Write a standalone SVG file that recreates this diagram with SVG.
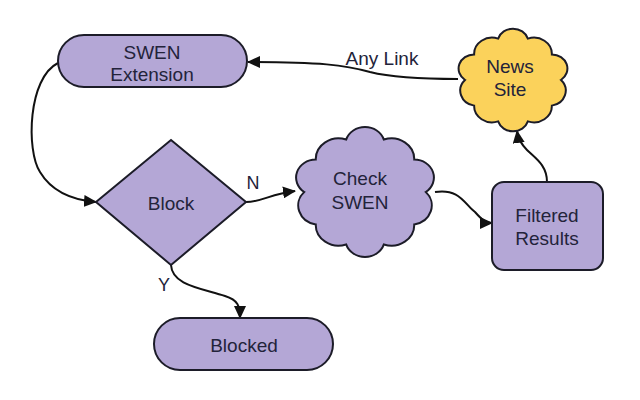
<svg xmlns="http://www.w3.org/2000/svg" xmlns:xlink="http://www.w3.org/1999/xlink" width="640" height="400" viewBox="0 0 640 400">
<style>
.node{fill:#b4a7d6;stroke:#1c1c28;stroke-width:2}
.news{fill:#fbd25b;stroke:#1c1c28;stroke-width:2}
.cloud{vector-effect:non-scaling-stroke}
.lbl{font-family:"Liberation Sans",Arial,sans-serif;font-size:19px;fill:#23233a;text-anchor:middle;dominant-baseline:central}
.edge{fill:none;stroke:#111;stroke-width:2;marker-end:url(#arr)}
</style>
<defs>
<marker id="arr" markerUnits="userSpaceOnUse" markerWidth="14" markerHeight="12" refX="12" refY="6" orient="auto">
<path d="M0,0 L13,6 L0,12 Z" fill="#111"/>
</marker>
<path id="cloudShape" class="cloud" d="M40,0 A14,14 0 0 1 32.4,23.5 A15,15 0 0 1 12.4,38 A13,13 0 0 1 -12.4,38 A15,15 0 0 1 -32.4,23.5 A14,14 0 0 1 -40,0 A13,13 0 0 1 -32.4,-23.5 A15,15 0 0 1 -12.4,-38 A13,13 0 0 1 12.4,-38 A15,15 0 0 1 32.4,-23.5 A13,13 0 0 1 40,0 Z"/>
</defs>
<rect width="640" height="400" fill="#ffffff"/>
<g id="connectors">
<path class="edge" d="M58,63 C28,78 26,150 40,172 C52,192 72,200 96,202"/>
<path class="edge" d="M246,202 C262,202 270,194 295,191"/>
<path class="edge" d="M171,265 C172,285 200,288 225,296 C238,300 240,306 240,318"/>
<path class="edge" d="M435,192 C460,188 465,205 475,212 C482,220 486,223 492,223"/>
<path class="edge" d="M547,182 C547,165 535,158 527,150 C520,143 518,138 517,131"/>
<path class="edge" d="M458,79 C420,79 390,77 370,72 C345,65 320,62 248,62"/>
<text class="lbl" x="382" y="58">Any Link</text>
<text class="lbl" x="253" y="183" style="font-size:18px">N</text>
<text class="lbl" x="164" y="285" style="font-size:18px">Y</text>
</g>
<g id="swen-extension">
<rect class="node" x="58" y="35" width="189" height="52" rx="26" ry="26"/>
<text class="lbl" x="152" y="52">SWEN</text>
<text class="lbl" x="152" y="74">Extension</text>
</g>
<g id="block">
<path class="node" d="M171,140 L246,202 L171,265 L96,202 Z"/>
<text class="lbl" x="171" y="203">Block</text>
</g>
<g id="blocked">
<rect class="node" x="154" y="318" width="179" height="52" rx="26" ry="26"/>
<text class="lbl" x="244" y="345">Blocked</text>
</g>
<g id="check-swen">
<use xlink:href="#cloudShape" href="#cloudShape" class="node" transform="translate(365,192) scale(1.52,1.38)"/>
<text class="lbl" x="360" y="178">Check</text>
<text class="lbl" x="360" y="202">SWEN</text>
</g>
<g id="news-site">
<use xlink:href="#cloudShape" href="#cloudShape" class="news" transform="translate(513,80) scale(1.2,1.09)"/>
<text class="lbl" x="510" y="66">News</text>
<text class="lbl" x="510" y="89">Site</text>
</g>
<g id="filtered-results">
<rect class="node" x="492" y="182" width="111" height="88" rx="12" ry="12"/>
<text class="lbl" x="547" y="215">Filtered</text>
<text class="lbl" x="547" y="238">Results</text>
</g>
</svg>
